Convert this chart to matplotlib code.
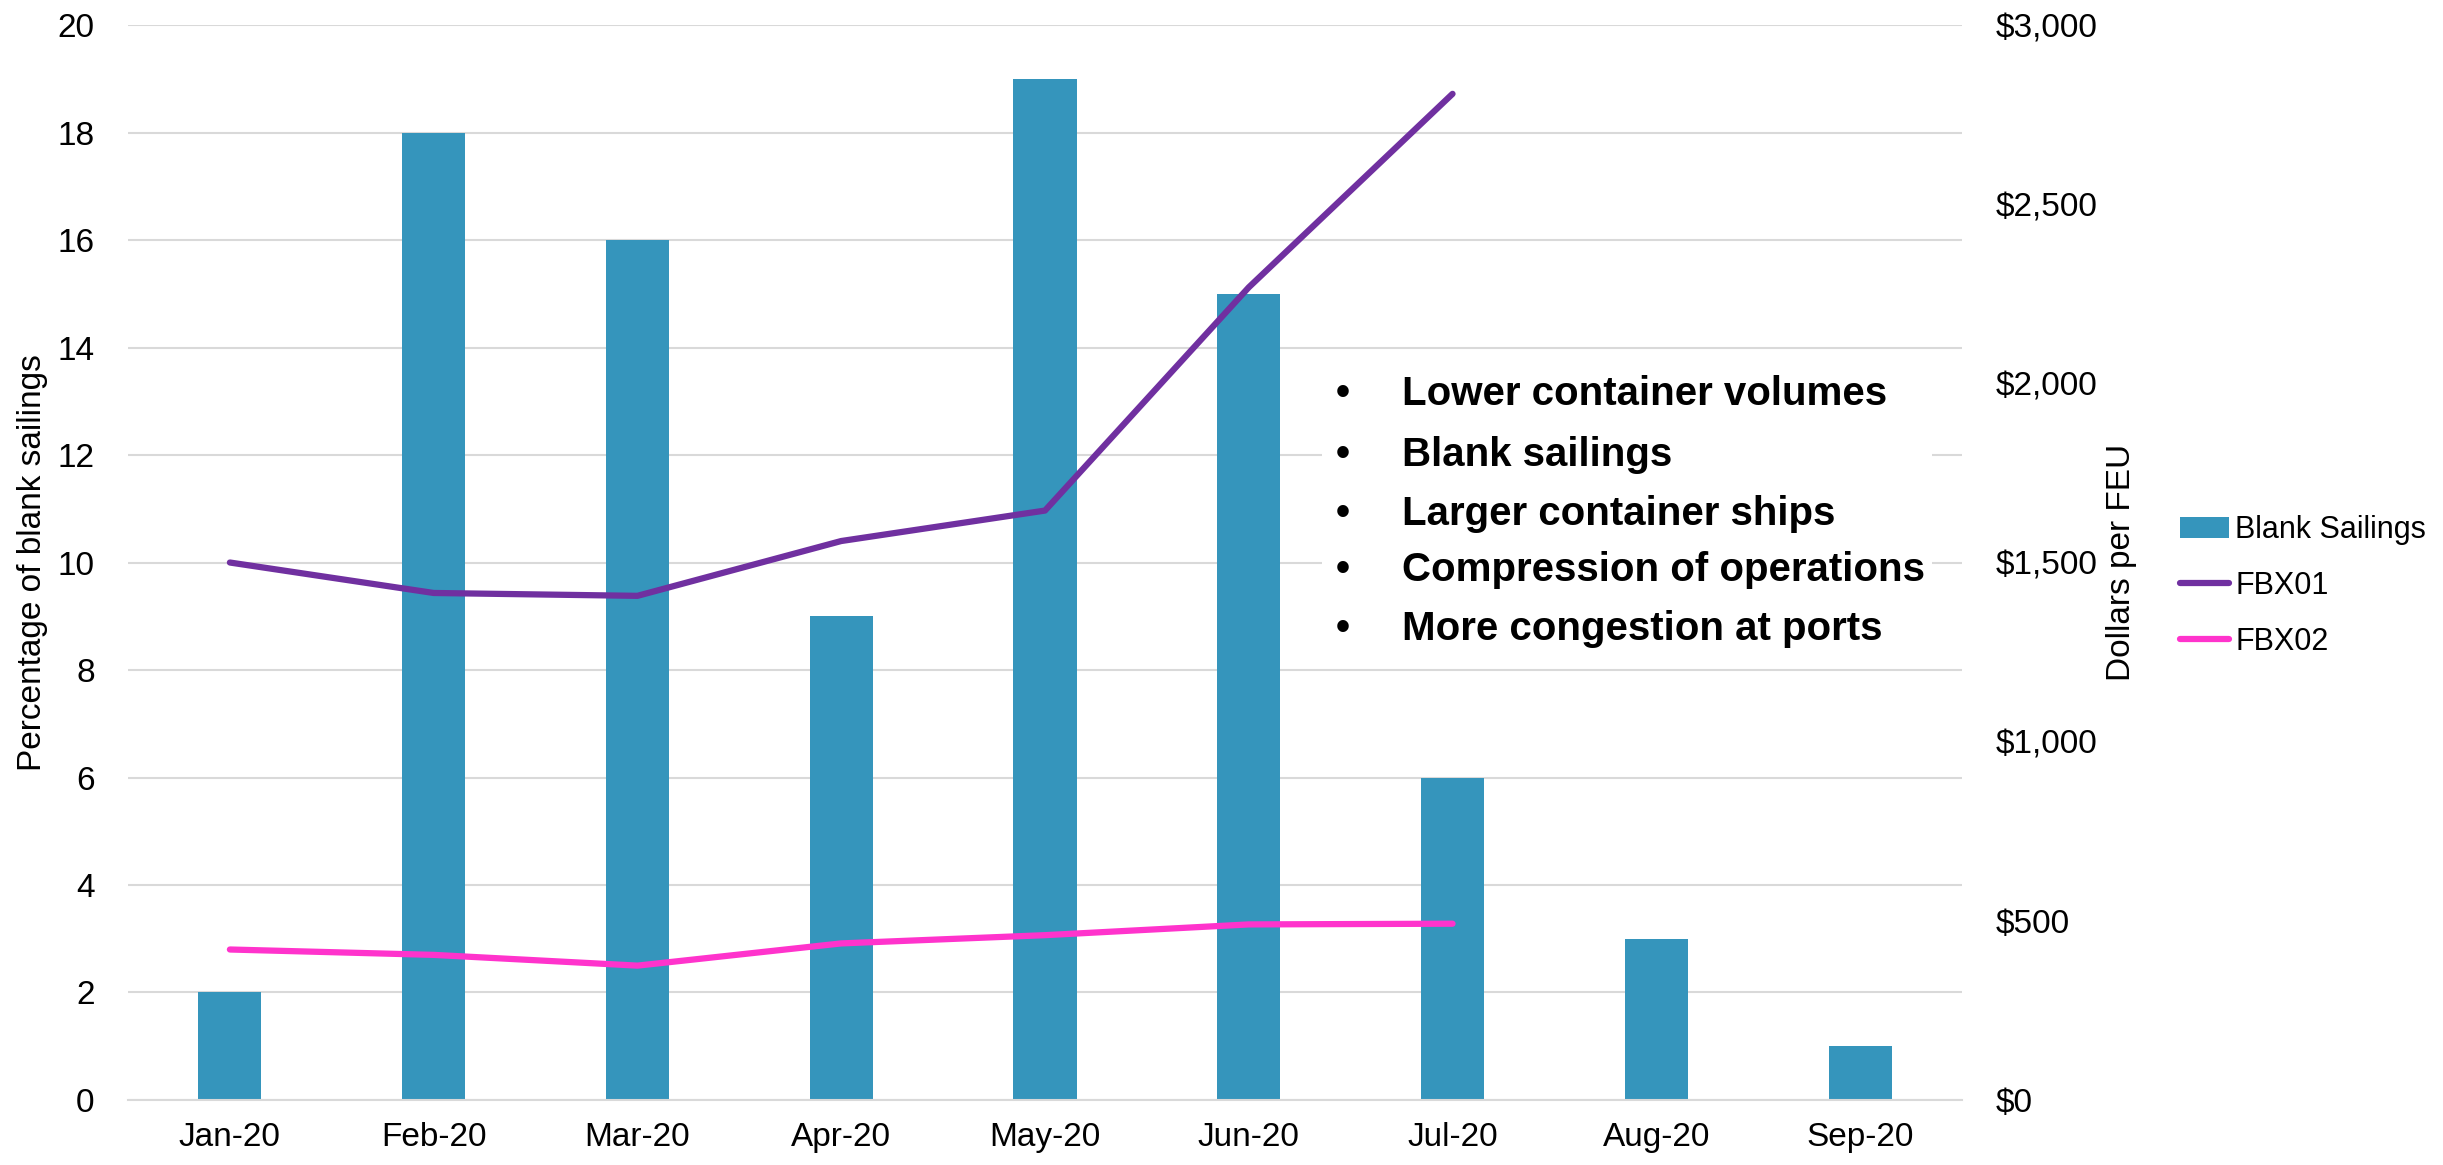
import matplotlib
matplotlib.use('Agg')
import matplotlib.pyplot as plt
import matplotlib.ticker as mtick
from matplotlib.patches import Rectangle
import numpy as np

plt.rcParams['font.family'] = ['Liberation Sans Narrow', 'Liberation Sans', 'DejaVu Sans']

# Datos del grafico
months = ['Jan-20', 'Feb-20', 'Mar-20', 'Apr-20', 'May-20', 'Jun-20', 'Jul-20', 'Aug-20', 'Sep-20']
blank_sailings = [2, 18, 16, 9, 19, 15, 6, 3, 1]
fbx01 = [1500, 1415, 1407, 1560, 1645, 2268, 2808]
fbx02 = [420, 405, 375, 437, 460, 490, 492]
bullets = ['Lower container volumes', 'Blank sailings', 'Larger container ships',
           'Compression of operations', 'More congestion at ports']

bar_color = '#3595BC'
fbx01_color = '#7030A0'
fbx02_color = '#FF33CC'
grid_color = '#D9D9D9'

fig = plt.figure(figsize=(24.43, 11.65), dpi=100)
ax = fig.add_axes([0.0524, 0.0558, 0.7507, 0.9227])
ax2 = ax.twinx()

x = np.arange(len(months))

# Barras (eje izquierdo)
ax.bar(x, blank_sailings, width=0.31, color=bar_color, zorder=2, label='Blank Sailings')
ax.set_ylim(0, 20)
ax.set_yticks(range(0, 21, 2))
ax.set_xlim(-0.5, len(months) - 0.5)
ax.set_xticks(x)
ax.set_xticklabels(months)
ax.grid(axis='y', color=grid_color, linewidth=1.5, zorder=0)
ax.set_axisbelow(True)
for s in ['top', 'right', 'left']:
    ax.spines[s].set_visible(False)
ax.spines['bottom'].set_color(grid_color)
ax.spines['bottom'].set_linewidth(1.5)
ax.tick_params(axis='both', length=0, labelsize=24)
ax.tick_params(axis='y', pad=24)
ax.tick_params(axis='x', pad=16)
ax.set_ylabel('Percentage of blank sailings', fontsize=24, labelpad=7)

# Lineas FBX (eje derecho)
ax2.plot(x[:len(fbx01)], fbx01, color=fbx01_color, linewidth=4.5, solid_capstyle='round',
         solid_joinstyle='round', label='FBX01')
ax2.plot(x[:len(fbx02)], fbx02, color=fbx02_color, linewidth=4.5, solid_capstyle='round',
         solid_joinstyle='round', label='FBX02')
ax2.set_ylim(0, 3000)
ax2.set_yticks(range(0, 3001, 500))
ax2.yaxis.set_major_formatter(mtick.StrMethodFormatter('${x:,.0f}'))
for s in ax2.spines.values():
    s.set_visible(False)
ax2.tick_params(axis='y', length=0, labelsize=24, pad=24)
ax2.set_ylabel('Dollars per FEU', fontsize=24, labelpad=6)

# Cuadro de texto con vinetas
ax.add_patch(Rectangle((0.541, 0.432), 0.25, 0.258, transform=fig.transFigure,
                       facecolor='white', edgecolor='none', zorder=1))
y_lines = [0.6618, 0.6094, 0.5588, 0.5107, 0.4601]
for y, t in zip(y_lines, bullets):
    fig.text(0.5497, y, '\u2022', fontsize=29, fontweight='bold', ha='center', va='center')
    fig.text(0.5739, y, t, fontsize=29, fontweight='bold', ha='left', va='center')

# Leyenda
h1, l1 = ax.get_legend_handles_labels()
h2, l2 = ax2.get_legend_handles_labels()
fig.legend(h1 + h2, l1 + l2, loc='center left', bbox_to_anchor=(0.8875, 0.497),
           frameon=False, fontsize=22, handlelength=1.6, handletextpad=0.2,
           labelspacing=0.85, borderaxespad=0)

plt.savefig('out.png', dpi=100)
